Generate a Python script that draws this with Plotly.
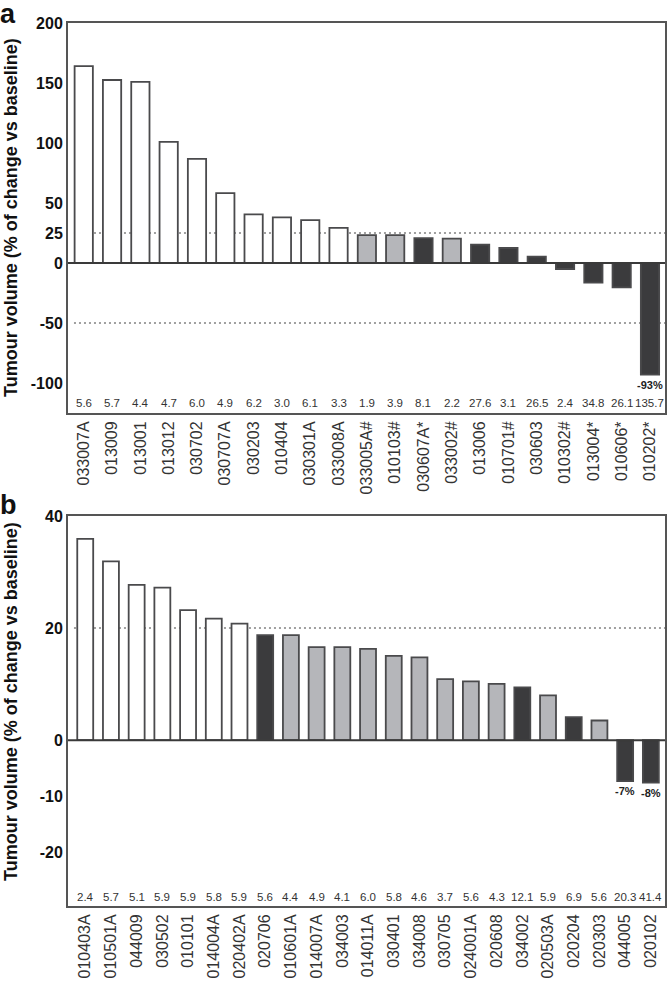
import plotly.graph_objects as go

# ---- Panel a data ----
a_ids = ["033007A", "013009", "013001", "013012", "030702", "030707A", "030203", "010404",
         "030301A", "033008A", "033005A#", "010103#", "030607A*", "033002#", "013006",
         "010701#", "030603", "010302#", "013004*", "010606*", "010202*"]
a_vals = [164, 152.5, 151, 101, 86.7, 58.3, 40.5, 38, 35.8, 29.2, 23.3, 23.3, 20.8, 20.3,
          15.3, 12.5, 5.3, -5, -16.4, -20.3, -93]
a_group = ["w"] * 10 + ["g", "g", "d", "g", "d", "d", "d", "d", "d", "d", "d"]
a_nums = ["5.6", "5.7", "4.4", "4.7", "6.0", "4.9", "6.2", "3.0", "6.1", "3.3", "1.9", "3.9",
          "8.1", "2.2", "27.6", "3.1", "26.5", "2.4", "34.8", "26.1", "135.7"]

# ---- Panel b data ----
b_ids = ["010403A", "010501A", "044009", "030502", "010101", "014004A", "020402A", "020706",
         "010601A", "014007A", "034003", "014011A", "030401", "034008", "030705", "024001A",
         "020608", "034002", "020503A", "020204", "020303", "044005", "020102"]
b_vals = [35.9, 31.9, 27.7, 27.2, 23.2, 21.7, 20.8, 18.75, 18.75, 16.6, 16.6, 16.3, 15.05,
          14.75, 10.9, 10.5, 10.05, 9.4, 8.0, 4.1, 3.5, -7.3, -7.6]
b_group = ["w"] * 7 + ["d", "g", "g", "g", "g", "g", "g", "g", "g", "g", "d", "g", "d", "g", "d", "d"]
b_nums = ["2.4", "5.7", "5.1", "5.9", "5.9", "5.8", "5.9", "5.6", "4.4", "4.9", "4.1", "6.0",
          "5.8", "4.6", "3.7", "5.6", "4.3", "12.1", "5.9", "6.9", "5.6", "20.3", "41.4"]

Y_TITLE = "Tumour volume (% of change vs baseline)"

FILL = {"w": "#ffffff", "g": "#b5b6ba", "d": "#3b3b3d"}
EDGE = "#4a4a4c"
FONT = "Liberation Sans, Arial, Helvetica, sans-serif"

fig = go.Figure()
fig.add_trace(go.Bar(x=list(range(len(a_vals))), y=a_vals,
                     marker=dict(color=[FILL[g] for g in a_group], line=dict(color=EDGE, width=1.8)),
                     width=0.645, xaxis="x", yaxis="y", showlegend=False, hoverinfo="skip"))
fig.add_trace(go.Bar(x=list(range(len(b_vals))), y=b_vals,
                     marker=dict(color=[FILL[g] for g in b_group], line=dict(color=EDGE, width=1.8)),
                     width=0.62, xaxis="x2", yaxis="y2", showlegend=False, hoverinfo="skip"))

axis_common = dict(showgrid=False, showline=True, mirror=True, linecolor="#555555", linewidth=2,
                   ticks="", zeroline=False)

fig.update_layout(
    width=668, height=982,
    margin=dict(l=68, r=1, t=23, b=76),
    plot_bgcolor="white", paper_bgcolor="white",
    font=dict(family=FONT, color="#111111"),
    xaxis=dict(**axis_common, domain=[0, 1], anchor="y", range=[-0.556, 20.53],
               tickmode="array", tickvals=list(range(len(a_ids))), ticktext=a_ids,
               tickangle=-90, tickfont=dict(size=16, color="#333333")),
    yaxis=dict(**axis_common, domain=[0.5583, 1.0], anchor="x", range=[-125, 200],
               tickmode="array", tickvals=[-100, -50, 0, 25, 50, 100, 150, 200],
               ticktext=["-100", "-50", "0", "25", "50", "100", "150", "200"],
               tickfont=dict(size=16, color="#111111", weight="bold")),
    xaxis2=dict(**axis_common, domain=[0, 1], anchor="y2", range=[-0.67, 22.55],
                tickmode="array", tickvals=list(range(len(b_ids))), ticktext=b_ids,
                tickangle=-90, tickfont=dict(size=16, color="#333333")),
    yaxis2=dict(**axis_common, domain=[0.0, 0.4417], anchor="x2", range=[-29.6, 40],
                tickmode="array", tickvals=[-20, -10, 0, 20, 40],
                ticktext=["-20", "-10", "0", "20", "40"],
                tickfont=dict(size=16, color="#111111", weight="bold")),
    bargap=0.35,
)

shapes = []
# zero lines
for xr, yr in [("x", "y"), ("x2", "y2")]:
    shapes.append(dict(type="line", xref=xr + " domain", yref=yr, x0=0, x1=1, y0=0, y1=0,
                       line=dict(color="#3a3a3a", width=2)))
# dotted thresholds
for xr, yr, yv in [("x", "y", 25), ("x", "y", -50), ("x2", "y2", 20)]:
    shapes.append(dict(type="line", xref=xr + " domain", yref=yr, x0=0.01, x1=1, y0=yv, y1=yv,
                       line=dict(color="#a0a0a0", width=2, dash="2px,3px"), layer="below"))
fig.update_layout(shapes=shapes)

ann = []
for i, t in enumerate(a_nums):
    ann.append(dict(x=i, y=-116.4, xref="x", yref="y", text=t, showarrow=False,
                    font=dict(size=11.5, color="#333333")))
for i, t in enumerate(b_nums):
    ann.append(dict(x=i, y=-28.0, xref="x2", yref="y2", text=t, showarrow=False,
                    font=dict(size=11.5, color="#333333")))
# percentage labels on strongly shrinking tumours
ann.append(dict(x=len(a_vals) - 1, y=a_vals[-1], xref="x", yref="y", text="<b>-93%</b>",
                showarrow=False, yanchor="top", yshift=-2, font=dict(size=11, color="#222222")))
ann.append(dict(x=len(b_vals) - 2, y=b_vals[-2], xref="x2", yref="y2", text="<b>-7%</b>",
                showarrow=False, yanchor="top", yshift=-2, font=dict(size=11, color="#222222")))
ann.append(dict(x=len(b_vals) - 1, y=b_vals[-1], xref="x2", yref="y2", text="<b>-8%</b>",
                showarrow=False, yanchor="top", yshift=-2, font=dict(size=11, color="#222222")))
# y-axis titles
ann.append(dict(x=0, y=1.0, xref="paper", yref="paper", xshift=-57, yshift=-195,
                text="<b>" + Y_TITLE + "</b>", textangle=-90, showarrow=False,
                xanchor="center", yanchor="middle", font=dict(size=18, color="#111111")))
ann.append(dict(x=0, y=0.4417, xref="paper", yref="paper", xshift=-57, yshift=-186,
                text="<b>" + Y_TITLE + "</b>", textangle=-90, showarrow=False,
                xanchor="center", yanchor="middle", font=dict(size=18, color="#111111")))
# panel letters
ann.append(dict(x=0, y=1.0, xref="paper", yref="paper", xshift=-70, yshift=26, text="<b>a</b>",
                showarrow=False, xanchor="left", yanchor="top", font=dict(size=27, color="#111111")))
ann.append(dict(x=0, y=0.4417, xref="paper", yref="paper", xshift=-70, yshift=28, text="<b>b</b>",
                showarrow=False, xanchor="left", yanchor="top", font=dict(size=27, color="#111111")))
fig.update_layout(annotations=ann)

fig.write_html("out.html", config={"displayModeBar": False},
               post_script="document.body.style.margin='0';document.body.style.overflow='hidden';")
